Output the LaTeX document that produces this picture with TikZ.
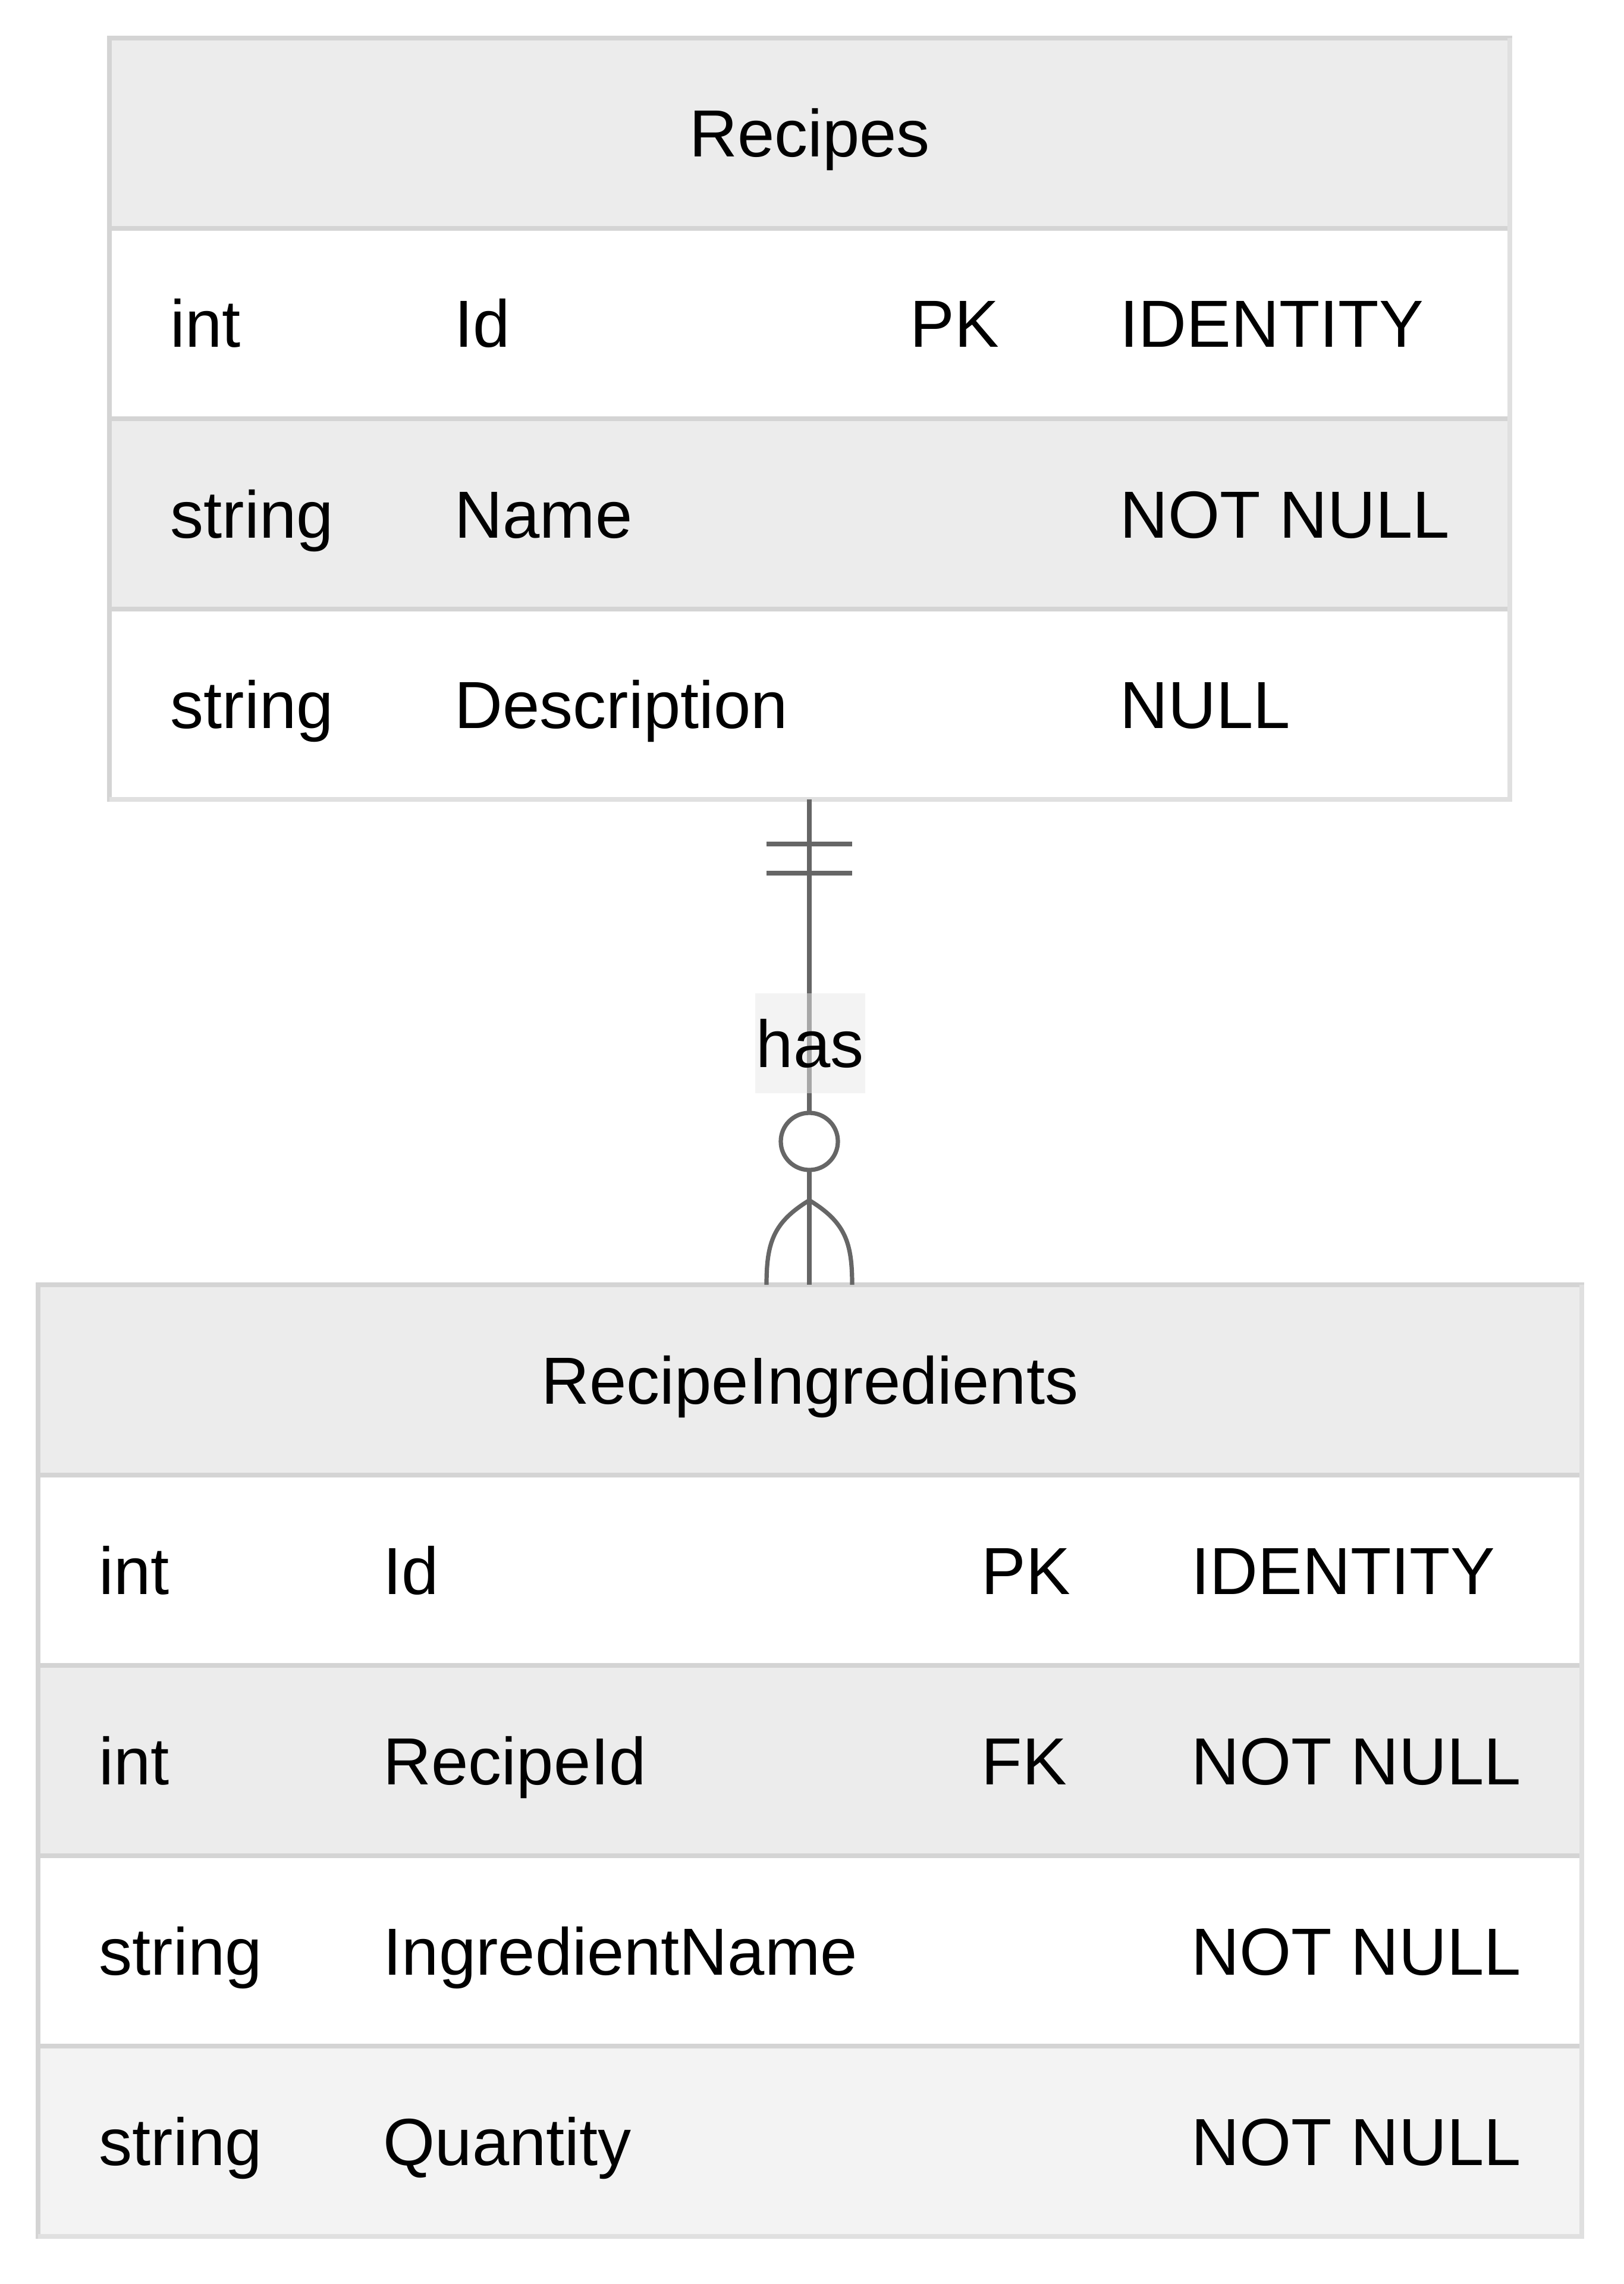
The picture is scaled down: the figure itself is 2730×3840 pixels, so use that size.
\documentclass[tikz,border=0pt]{standalone}
\usepackage{fontspec}
\setmainfont{Liberation Sans}
\definecolor{hdrgrey}{HTML}{ECECEC}
\definecolor{rowgrey}{HTML}{ECECEC}
\definecolor{rowlight}{HTML}{F3F3F3}
\definecolor{bordA}{HTML}{D4D4D4}
\definecolor{bordB}{HTML}{E0E0E0}
\definecolor{conn}{HTML}{666666}
\definecolor{lblbg}{HTML}{E8E8E8}
\tikzset{
  cellwhite/.style={fill=white, draw=bordA, line width=2pt},
  cellgrey/.style={fill=rowgrey, draw=bordA, line width=2pt},
  celllight/.style={fill=rowlight, draw=bordA, line width=2pt},
  outerrb/.style={draw=bordB, line width=2pt},
  txt/.style={anchor=base west, inner sep=0pt, font=\fontsize{28}{34}\selectfont, text=black},
  ttl/.style={anchor=base, inner sep=0pt, font=\fontsize{28}{34}\selectfont, text=black},
  connline/.style={draw=conn, line width=1.8pt},
}
\begin{document}
\begin{tikzpicture}[x=0.25pt, y=-0.25pt]
\useasboundingbox (0,0) rectangle (2730,3840);
\fill[white] (0,0) rectangle (2730,3840);

% ---------- Recipes table ----------
\path[cellgrey]  (184,64)   rectangle (2539,384);
\path[cellwhite] (184,384)  rectangle (2539,704);
\path[cellgrey]  (184,704)  rectangle (2539,1024);
\path[cellwhite] (184,1024) rectangle (2539,1344);
\draw[outerrb] (2539,64) -- (2539,1344) -- (184,1344);
\node[draw=none, minimum width=588.75pt, minimum height=320pt, inner sep=0pt] (recipes) at (1361.5,704) {};

\node[ttl] (recipesT) at (1361.5,264) {Recipes};
\node[txt] (r1a) at (286,584) {int};
\node[txt] (r1b) at (764,584) {Id};
\node[txt] (r1c) at (1530,584) {PK};
\node[txt] (r1d) at (1883,584) {IDENTITY};
\node[txt] (r2a) at (286,904) {string};
\node[txt] (r2b) at (764,904) {Name};
\node[txt] (r2d) at (1883,904) {NOT NULL};
\node[txt] (r3a) at (286,1224) {string};
\node[txt] (r3b) at (764,1224) {Description};
\node[txt] (r3d) at (1883,1224) {NULL};

% ---------- RecipeIngredients table ----------
\path[cellgrey]  (64,2160) rectangle (2660,2480);
\path[cellwhite] (64,2480) rectangle (2660,2800);
\path[cellgrey]  (64,2800) rectangle (2660,3120);
\path[cellwhite] (64,3120) rectangle (2660,3440);
\path[celllight] (64,3440) rectangle (2660,3760);
\draw[outerrb] (2660,2160) -- (2660,3760) -- (64,3760);
\node[draw=none, minimum width=649pt, minimum height=400pt, inner sep=0pt] (ingr) at (1362,2960) {};

\node[ttl] (ingrT) at (1362,2360) {RecipeIngredients};
\node[txt] (i1a) at (166,2680) {int};
\node[txt] (i1b) at (644,2680) {Id};
\node[txt] (i1c) at (1650,2680) {PK};
\node[txt] (i1d) at (2003,2680) {IDENTITY};
\node[txt] (i2a) at (166,3000) {int};
\node[txt] (i2b) at (644,3000) {RecipeId};
\node[txt] (i2c) at (1650,3000) {FK};
\node[txt] (i2d) at (2003,3000) {NOT NULL};
\node[txt] (i3a) at (166,3320) {string};
\node[txt] (i3b) at (644,3320) {IngredientName};
\node[txt] (i3d) at (2003,3320) {NOT NULL};
\node[txt] (i4a) at (166,3640) {string};
\node[txt] (i4b) at (644,3640) {Quantity};
\node[txt] (i4d) at (2003,3640) {NOT NULL};

% ---------- relationship ----------
\coordinate (top) at (1361,1344);
\coordinate (bot) at (1361,2160);
\coordinate (apex) at (1361,2018);
\coordinate (footL) at (1289,2160);
\coordinate (footR) at (1433,2160);
\draw[connline] (top) -- (bot);
% exactly one (two bars)
\draw[connline] (1289,1419) -- (1433,1419);
\draw[connline] (1289,1468) -- (1433,1468);
% zero or many
\node[circle, draw=conn, line width=1.8pt, fill=white, minimum size=24pt, inner sep=0pt] (zero) at (1361,1919) {};
\draw[connline] (apex) .. controls (1300,2055) and (1289,2090) .. (footL);
\draw[connline] (apex) .. controls (1422,2055) and (1433,2090) .. (footR);
% label
\node[fill=lblbg, fill opacity=0.5, text opacity=1, minimum width=46.25pt, minimum height=42pt, inner sep=0pt, font=\fontsize{28}{34}\selectfont] (has) at (1362,1754) {has};
\end{tikzpicture}
\end{document}
